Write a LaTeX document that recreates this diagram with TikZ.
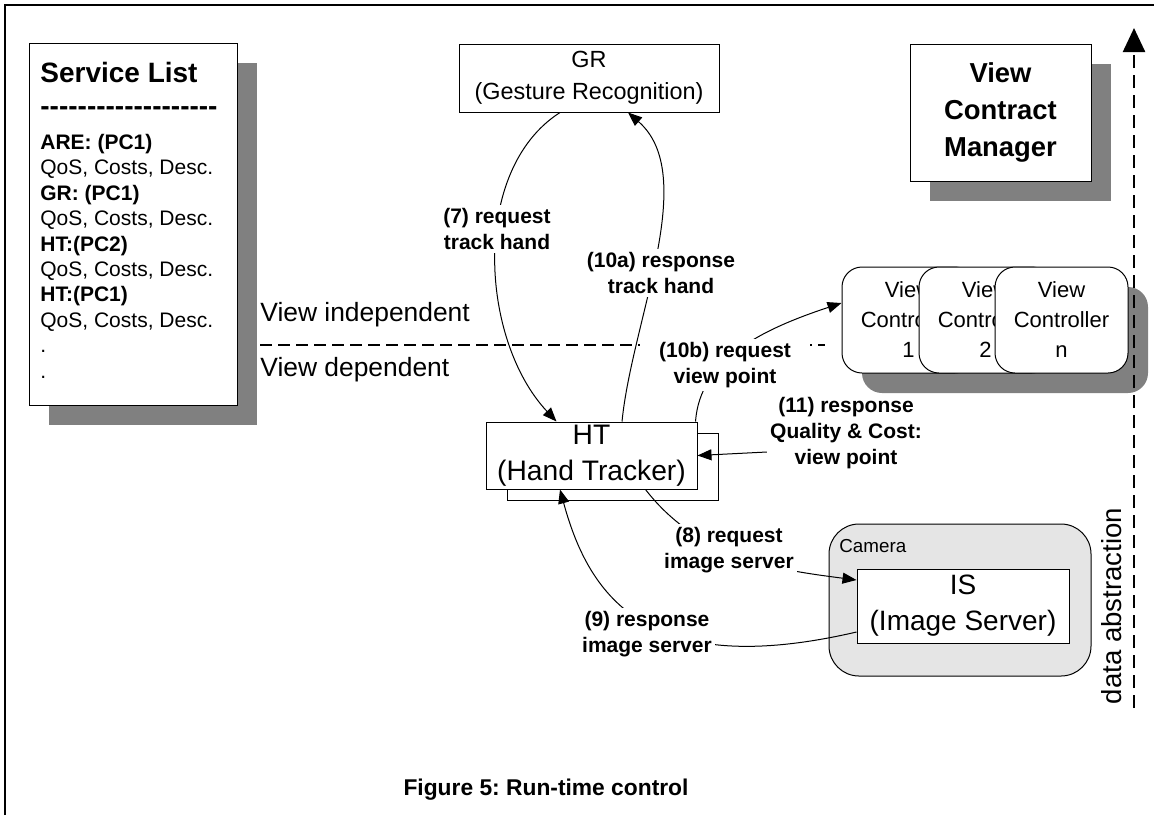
\documentclass[tikz,border=0pt]{standalone}
\usepackage{fontspec}
\setmainfont{Liberation Sans}
\usetikzlibrary{arrows.meta,shadows}
\definecolor{FigureInk}{gray}{0}
\definecolor{ShadowGray}{gray}{0.5}
\definecolor{CameraFill}{gray}{0.9}
\newcommand{\FontAt}[2]{\fontsize{#1}{#2}\selectfont}
\newcommand{\DashRow}{\foreach \n in {1,...,19}{-\kern0pt}}
\frenchspacing
\tikzset{
  figure/.style={x=0.5pt,y=-0.5pt,text=FigureInk,>={Triangle[length=7pt,width=5.5pt]}},
  box/.style={draw=FigureInk,line width=0.5pt,fill=white,align=center,inner sep=0pt},
  castshadow/.style={drop shadow={shadow xshift=10pt,shadow yshift=-10pt,fill=ShadowGray,opacity=1}},
  vcbox/.style={box,rounded corners=10pt,minimum width=66.5pt,minimum height=53pt,font=\FontAt{11}{15}},
  flow/.style={->,line width=0.5pt,draw=FigureInk},
  tag/.style={fill=white,align=center,inner sep=1.5pt,font=\FontAt{10.5}{12.8}\bfseries},
  split/.style={line width=1pt,dash pattern=on 6pt off 3pt},
}

\begin{document}
\begin{tikzpicture}[figure]
  \useasboundingbox (0,0) rectangle (1154,815);
  \draw[line width=1pt] (5,815) -- (5,5) -- (1154,5);

  % service list
  \node[box,castshadow,minimum width=104pt,minimum height=181pt] (listbox) at (133,224) {};
  \node[anchor=north west,inner sep=0pt,align=left,font=\FontAt{10.5}{12.7}] (slist) at (40,62) {%
    {\FontAt{14}{16}\bfseries Service List}\\[3.5pt]
    {\FontAt{14}{16}\bfseries\DashRow}\\[4.5pt]
    \textbf{ARE: (PC1)}\\
    QoS, Costs, Desc.\\
    \textbf{GR: (PC1)}\\
    QoS, Costs, Desc.\\
    \textbf{HT:(PC2)}\\
    QoS, Costs, Desc.\\
    \textbf{HT:(PC1)}\\
    QoS, Costs, Desc.\\
    .\\
    .};

  \node[box,castshadow,minimum width=90.5pt,minimum height=68.5pt,
        font=\FontAt{13.7}{18.5}\bfseries] (VCM) at (1000.5,112.5) {View\\Contract\\Manager};

  \node[box,minimum width=130pt,minimum height=34pt,font=\FontAt{11.7}{16}] (GR) at (589,78)
    {GR\\(Gesture Recognition)};

  \node[box,minimum width=105.5pt,minimum height=33.5pt] (HTback) at (612.5,466.5) {};
  \node[box,minimum width=105.5pt,minimum height=33.5pt,font=\FontAt{14.1}{18}] (HT) at (591.5,455.5)
    {HT\\(Hand Tracker)};

  % view controllers
  \fill[ShadowGray,rounded corners=10pt] (862,287) rectangle (1148,393);
  \node[vcbox] (VC1) at (908.5,320) {View\\Controller\\1};
  \node[vcbox] (VC2) at (985.5,320) {View\\Controller\\2};
  \node[vcbox] (VC3) at (1061.5,320) {View\\Controller\\n};

  % camera
  \node[box,fill=CameraFill,rounded corners=15pt,minimum width=131pt,minimum height=76pt] (cam) at (960,600) {};
  \node[anchor=west,inner sep=0pt,font=\FontAt{9.4}{11}] (camlabel) at (839,546) {Camera};
  \node[box,minimum width=106pt,minimum height=37pt,font=\FontAt{14}{18}] (IS) at (963,606)
    {IS\\(Image Server)};

  % view split
  \coordinate (splitL) at (260,345);
  \coordinate (splitR) at (825,345);
  \draw[split] (splitL) -- (splitR);
  \node[anchor=west,inner sep=0pt,font=\FontAt{13.2}{15}] (indep) at (260,315) {View independent};
  \node[anchor=west,inner sep=0pt,font=\FontAt{13.2}{15}] (dep) at (260,370) {View dependent};

  % data abstraction
  \coordinate (absBottom) at (1134,708);
  \coordinate (absTop) at (1134,28);
  \draw[line width=1.2pt,dash pattern=on 6.5pt off 3.5pt,-{Triangle[length=12pt,width=11pt]}] (absBottom) -- (absTop);
  \node[rotate=90,font=\FontAt{13.8}{16}] (abstr) at (1112,606) {data abstraction};

  % messages
  \draw[flow] ([xshift=-14.5pt]GR.south) .. controls (470,170) and (480,340) .. ([xshift=-17.5pt]HT.north);
  \draw[flow] ([xshift=15.25pt]HT.north) .. controls (632,320) and (700,175) .. ([xshift=19.5pt]GR.south);
  \draw[flow] ([xshift=-1pt]HT.north east) .. controls (700,360) and (760,330) .. ([yshift=8.5pt]VC1.west);
  \draw[flow] ([xshift=-26pt]HT.south east) .. controls (700,560) and (780,570) .. ([yshift=13pt]IS.west);
  \draw[flow] ([yshift=-13pt]IS.west) .. controls (650,680) and (590,600) .. ([xshift=-15.75pt]HT.south);

  \node[tag] (lbl7) at (497,229) {(7) request\\track hand};
  \node[tag] (lbl10a) at (661,273) {(10a) response\\track hand};
  \node[tag,minimum width=85pt] (lbl10b) at (725,365) {(10b) request\\view point};
  \node[tag] (lbl11) at (846,433) {(11) response\\Quality \& Cost:\\view point};
  \node[tag] (lbl8) at (729,550) {(8) request\\image server};
  \node[tag] (lbl9) at (647,634) {(9) response\\image server};
  \draw[flow] ([yshift=-9.5pt]lbl11.west) -- (HT.east);

  \node[font=\FontAt{11.4}{14}\bfseries] (caption) at (546,790) {Figure 5: Run-time control};
\end{tikzpicture}
\end{document}
